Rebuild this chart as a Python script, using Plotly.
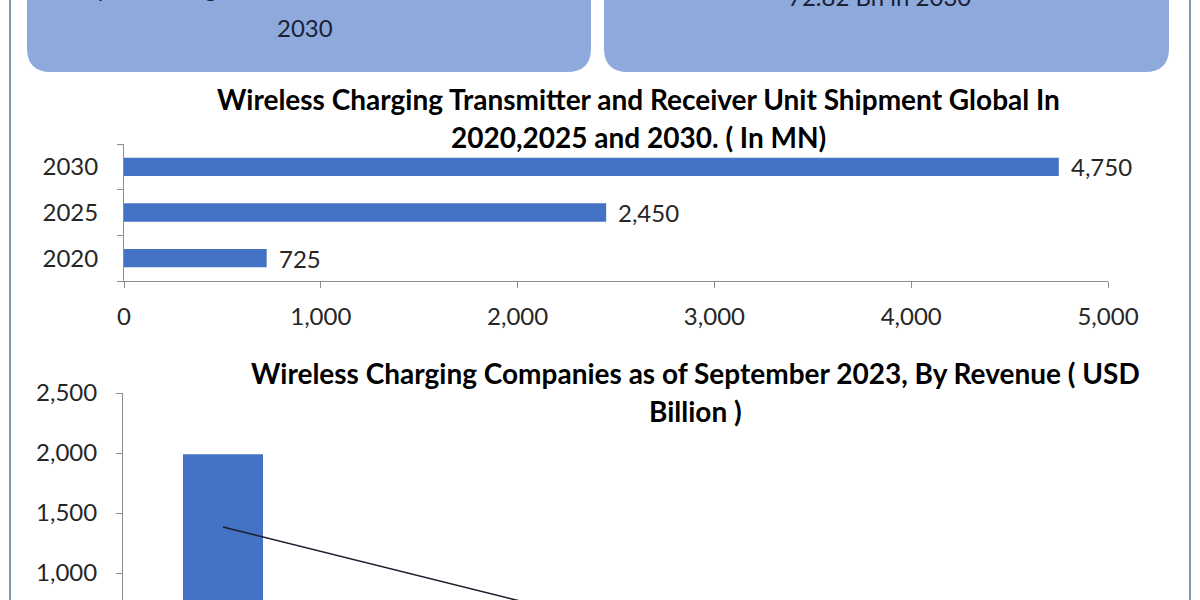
import plotly.graph_objects as go

W, H = 1200, 600

# ---------------- data ----------------
ship_years = ["2020", "2025", "2030"]
ship_values = [725, 2450, 4750]
ship_ticks = [0, 1000, 2000, 3000, 4000, 5000]

companies = ["Company 1", "Company 2", "Company 3", "Company 4", "Company 5"]
company_revenue = [1990, 410, 200, 100, 65]          # only the first bar is in view
company_trend = [1383, 968, 553, 138, -277]          # straight trend line
revenue_ticks = [1000, 1500, 2000, 2500]

box_left_lines = ["Expected to grow at a CAGR of 13.5% till", "2030"]
box_right_lines = ["72.82 Bn in 2030"]

title_top = ["Wireless Charging Transmitter and Receiver Unit Shipment Global In",
             "2020,2025 and 2030. ( In MN)"]
title_bottom = ["Wireless Charging Companies as of September 2023, By Revenue ( USD",
                "Billion )"]

# ---------------- style ----------------
FONT = "Lato"
BAR = "#4472C4"
AXIS = "#8C8C8C"
TXT = "#262626"
BOX = "#8EA9DB"


def px(x):
    return x / W


def py(y):
    return 1 - y / H


ship_pos = list(range(len(ship_years)))
ship_bounds = [p - 0.5 for p in ship_pos] + [ship_pos[-1] + 0.5]

fig = go.Figure()

fig.add_trace(go.Bar(
    y=ship_pos, x=ship_values, orientation="h", width=0.4,
    marker=dict(color=BAR, line=dict(width=0)),
    xaxis="x", yaxis="y", showlegend=False,
    customdata=ship_years, hovertemplate="%{customdata}: %{x:,}<extra></extra>",
))

fig.add_trace(go.Bar(
    x=companies, y=company_revenue,
    marker=dict(color=BAR, line=dict(width=0)),
    xaxis="x2", yaxis="y2", showlegend=False,
))
fig.add_trace(go.Scatter(
    x=companies, y=company_trend, mode="lines",
    line=dict(color="#1c1c2c", width=1.6),
    xaxis="x2", yaxis="y2", showlegend=False,
))

# value labels for shipment bars
annotations = []
for p, v in zip(ship_pos, ship_values):
    annotations.append(dict(
        x=v, y=p, xref="x", yref="y", text=f"{v:,}", showarrow=False,
        xanchor="left", yanchor="middle", xshift=10,
        font=dict(family=FONT, size=24, color=TXT),
    ))


def title_line(text, xc, yc):
    return dict(x=px(xc), y=py(yc), xref="paper", yref="paper", text=f"<b>{text}</b>",
                showarrow=False, xanchor="center", yanchor="middle",
                font=dict(family=FONT, size=28, color="#000000"))


annotations.append(title_line(title_top[0], 638, 99))
annotations.append(title_line(title_top[1], 638, 137))
annotations.append(title_line(title_bottom[0], 695, 373))
annotations.append(title_line(title_bottom[1], 695, 411))


def box_text(text, xc, yc):
    return dict(x=px(xc), y=py(yc), xref="paper", yref="paper", text=text,
                showarrow=False, xanchor="center", yanchor="middle",
                font=dict(family=FONT, size=24, color="#1b2235"))


annotations.append(box_text(box_left_lines[0], 288, -12))
annotations.append(box_text(box_left_lines[1], 305, 28))
annotations.append(box_text(box_right_lines[0], 880, -4))


def rounded_box(x0, x1, y0, y1, r):
    pts = (f"M {px(x0)},{py(y0)} L {px(x0)},{py(y1 - r)} "
           f"Q {px(x0)},{py(y1)} {px(x0 + r)},{py(y1)} "
           f"L {px(x1 - r)},{py(y1)} Q {px(x1)},{py(y1)} {px(x1)},{py(y1 - r)} "
           f"L {px(x1)},{py(y0)} Z")
    return dict(type="path", path=pts, xref="paper", yref="paper",
                fillcolor=BOX, line=dict(width=0), layer="below")


shapes = [
    rounded_box(27, 591, -40, 72, 24),
    rounded_box(604, 1169, -40, 72, 24),
    dict(type="line", xref="paper", yref="paper", x0=px(10), x1=px(10), y0=0, y1=1,
         line=dict(color="#7F96AE", width=2)),
    dict(type="line", xref="paper", yref="paper", x0=px(1190), x1=px(1190), y0=0, y1=1,
         line=dict(color="#7F96AE", width=2)),
]

tickfont = dict(family=FONT, size=24, color=TXT)

fig.update_layout(
    width=W, height=H,
    margin=dict(l=0, r=0, t=0, b=0, autoexpand=False),
    paper_bgcolor="white", plot_bgcolor="rgba(0,0,0,0)",
    bargap=0.6,
    annotations=annotations,
    shapes=shapes,
    xaxis=dict(
        domain=[px(124), px(1108)], anchor="y", range=[0, 5000],
        tickvals=ship_ticks, ticktext=[f"{t:,}" for t in ship_ticks],
        ticks="outside", ticklen=6, tickcolor=AXIS, tickwidth=1,
        showline=True, linecolor=AXIS, linewidth=1, showgrid=False, zeroline=False,
        tickfont=tickfont, ticklabelstandoff=8, fixedrange=True, automargin=False,
    ),
    yaxis=dict(
        domain=[py(281), py(144)], anchor="x", range=[-0.5, len(ship_years) - 0.5],
        tickvals=ship_pos, ticktext=ship_years, ticks="", ticklen=0,
        minor=dict(tickvals=ship_bounds, ticks="outside", ticklen=6,
                   tickcolor=AXIS, tickwidth=1, showgrid=False),
        showline=True, linecolor=AXIS, linewidth=1, showgrid=False, zeroline=False,
        tickfont=tickfont, ticklabelstandoff=20, fixedrange=True, automargin=False,
    ),
    xaxis2=dict(
        domain=[px(123), px(1123)], anchor="y2", type="category",
        categoryorder="array", categoryarray=companies,
        visible=False, fixedrange=True, automargin=False,
    ),
    yaxis2=dict(
        domain=[0, py(393)], anchor="x2", range=[775, 2500],
        tickvals=revenue_ticks, ticktext=[f"{t:,}" for t in revenue_ticks],
        ticks="outside", ticklen=6, tickcolor=AXIS, tickwidth=1,
        showline=True, linecolor=AXIS, linewidth=1, showgrid=False, zeroline=False,
        tickfont=tickfont, ticklabelstandoff=14, fixedrange=True, automargin=False,
    ),
)

fig.write_html(
    "out.html",
    config={"displayModeBar": False},
    post_script="document.body.style.margin='0';document.body.style.overflow='hidden';",
)
